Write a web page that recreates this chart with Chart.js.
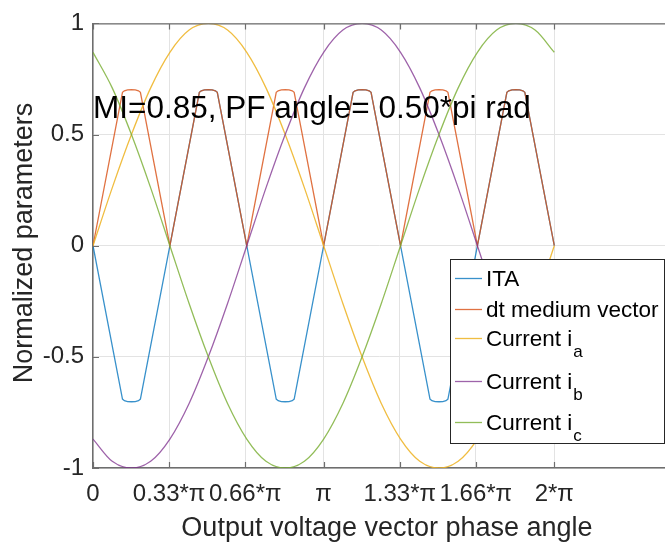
<!DOCTYPE html>
<html>
<head>
<meta charset="utf-8">
<script src="https://cdn.jsdelivr.net/npm/chart.js@4"></script>
<style>
  html, body { margin: 0; padding: 0; background: #fff; overflow: hidden; }
  canvas { display: block; }
</style>
</head>
<body>
<canvas id="chart" width="665" height="546"></canvas>
<script>
// phase angle of the sampled currents, degrees
const currentAngle = [0, 15, 30, 45, 60, 75, 90, 105, 120, 135, 150, 165, 180,
  195, 210, 225, 240, 255, 270, 285, 300, 315, 330, 345, 360];
const currentA = [0, 0.26, 0.5, 0.71, 0.87, 0.97, 1, 0.97, 0.87, 0.71, 0.5, 0.26, 0,
  -0.26, -0.5, -0.71, -0.87, -0.97, -1, -0.97, -0.87, -0.71, -0.5, -0.26, 0];
const currentB = [-0.87, -0.97, -1, -0.97, -0.87, -0.71, -0.5, -0.26, 0, 0.26, 0.5, 0.71, 0.87,
  0.97, 1, 0.97, 0.87, 0.71, 0.5, 0.26, 0, -0.26, -0.5, -0.71, -0.87];
const currentC = [0.87, 0.71, 0.5, 0.26, 0, -0.26, -0.5, -0.71, -0.87, -0.97, -1, -0.97, -0.87,
  -0.71, -0.5, -0.26, 0, 0.26, 0.5, 0.71, 0.87, 0.97, 1, 0.97, 0.87];

// sector break points for dt / ITA, degrees
const dtAngle = [
  0, 23, 24.5, 27, 30, 33, 35.5, 37,
  60, 83, 84.5, 87, 90, 93, 95.5, 97,
  120, 143, 144.5, 147, 150, 153, 155.5, 157,
  180, 203, 204.5, 207, 210, 213, 215.5, 217,
  240, 263, 264.5, 267, 270, 273, 275.5, 277,
  300, 323, 324.5, 327, 330, 333, 335.5, 337,
  360];
const dtMedium = [
  0, 0.69, 0.697, 0.701, 0.702, 0.701, 0.697, 0.69,
  0, 0.69, 0.697, 0.701, 0.702, 0.701, 0.697, 0.69,
  0, 0.69, 0.697, 0.701, 0.702, 0.701, 0.697, 0.69,
  0, 0.69, 0.697, 0.701, 0.702, 0.701, 0.697, 0.69,
  0, 0.69, 0.697, 0.701, 0.702, 0.701, 0.697, 0.69,
  0, 0.69, 0.697, 0.701, 0.702, 0.701, 0.697, 0.69,
  0];
const ita = [
  0, -0.69, -0.697, -0.701, -0.702, -0.701, -0.697, -0.69,
  0, 0.69, 0.697, 0.701, 0.702, 0.701, 0.697, 0.69,
  0, -0.69, -0.697, -0.701, -0.702, -0.701, -0.697, -0.69,
  0, 0.69, 0.697, 0.701, 0.702, 0.701, 0.697, 0.69,
  0, -0.69, -0.697, -0.701, -0.702, -0.701, -0.697, -0.69,
  0, 0.69, 0.697, 0.701, 0.702, 0.701, 0.697, 0.69,
  0];

// x ticks in units of pi
const xTickValues = [0, 0.33, 0.66, 1, 1.33, 1.66, 2];
const xTickLabels = ['0', '0.33*π', '0.66*π', 'π', '1.33*π', '1.66*π', '2*π'];
const yTickValues = [-1, -0.5, 0, 0.5, 1];

const seriesNames = ['ITA', 'dt medium vector', 'Current i', 'Current i', 'Current i'];
const seriesSubs = ['', '', 'a', 'b', 'c'];
const seriesColors = ['rgba(0,114,189,0.78)', 'rgba(217,83,25,0.82)', 'rgba(237,177,32,0.85)',
  'rgba(126,47,142,0.75)', 'rgba(119,172,48,0.8)'];

const noteText = 'MI=0.85, PF angle= 0.50*pi rad';
const xTitle = 'Output voltage vector phase angle';
const yTitle = 'Normalized parameters';

const FONT = "'Liberation Sans', Arial, sans-serif";
const AXIS_COLOR = '#262626';
const FRAME_COLOR = '#6e6e6e';

const toPoints = (angles, values) => angles.map((d, i) => ({ x: d / 180, y: values[i] }));

const makeSet = (i, angles, values, smooth) => ({
    label: seriesNames[i] + seriesSubs[i],
    data: toPoints(angles, values),
    borderColor: seriesColors[i],
    borderWidth: 1.3,
    pointRadius: 0,
    tension: 0,
    cubicInterpolationMode: smooth ? 'monotone' : 'default',
    order: 5 - i // later series on top
});

// frame, inward tick marks, titles, note and legend box
const decorations = {
    id: 'decorations',
    afterDatasetsDraw(chart) {
        const { ctx, chartArea: a } = chart;
        ctx.save();
        ctx.fillStyle = '#000';
        ctx.font = `31.5px ${FONT}`;
        ctx.textAlign = 'left';
        ctx.textBaseline = 'alphabetic';
        ctx.fillText(noteText, a.left, 118);
        ctx.restore();
    },
    afterDraw(chart) {
        const { ctx, chartArea: a, scales } = chart;
        ctx.save();
        ctx.strokeStyle = FRAME_COLOR;
        ctx.lineWidth = 1.2;
        ctx.beginPath();
        ctx.moveTo(a.left, a.top + 0.5);
        ctx.lineTo(a.right, a.top + 0.5);
        xTickValues.forEach(v => {
            const x = Math.round(scales.x.getPixelForValue(v)) + 0.5;
            ctx.moveTo(x, a.bottom); ctx.lineTo(x, a.bottom - 6);
            ctx.moveTo(x, a.top); ctx.lineTo(x, a.top + 6);
        });
        yTickValues.forEach(v => {
            const y = Math.round(scales.y.getPixelForValue(v)) + 0.5;
            ctx.moveTo(a.left, y); ctx.lineTo(a.left + 6, y);
        });
        ctx.stroke();

        // axis titles
        ctx.fillStyle = AXIS_COLOR;
        ctx.font = `27px ${FONT}`;
        ctx.textAlign = 'center';
        ctx.textBaseline = 'alphabetic';
        ctx.fillText(xTitle, 387, 536);
        ctx.save();
        ctx.translate(32, 243);
        ctx.rotate(-Math.PI / 2);
        ctx.fillText(yTitle, 0, 0);
        ctx.restore();

        // legend
        const box = { left: 450.5, top: 259.5, right: 664.5, bottom: 443.5 };
        ctx.fillStyle = '#fff';
        ctx.fillRect(box.left, box.top, box.right - box.left, box.bottom - box.top);
        ctx.strokeStyle = AXIS_COLOR;
        ctx.lineWidth = 1;
        ctx.strokeRect(box.left, box.top, box.right - box.left, box.bottom - box.top);
        const rows = [278, 309, 338, 381, 422];
        rows.forEach((y, i) => {
            ctx.strokeStyle = seriesColors[i];
            ctx.lineWidth = 1.3;
            ctx.beginPath();
            ctx.moveTo(455, y + 0.5);
            ctx.lineTo(482, y + 0.5);
            ctx.stroke();
            ctx.fillStyle = '#000';
            ctx.font = `22.5px ${FONT}`;
            ctx.textAlign = 'left';
            ctx.textBaseline = 'alphabetic';
            ctx.fillText(seriesNames[i], 486, y + 8);
            if (seriesSubs[i]) {
                const w = ctx.measureText(seriesNames[i]).width;
                ctx.font = `17px ${FONT}`;
                ctx.fillText(seriesSubs[i], 486 + w + 1, y + 19);
            }
        });
        ctx.restore();
    }
};

new Chart(document.getElementById('chart'), {
    type: 'line',
    data: {
        datasets: [
            makeSet(0, dtAngle, ita, false),
            makeSet(1, dtAngle, dtMedium, false),
            makeSet(2, currentAngle, currentA, true),
            makeSet(3, currentAngle, currentB, true),
            makeSet(4, currentAngle, currentC, true)
        ]
    },
    plugins: [decorations],
    options: {
        responsive: false,
        animation: false,
        devicePixelRatio: 1,
        layout: { padding: { top: 16, right: 0, left: 0, bottom: 0 } },
        plugins: {
            legend: { display: false },
            tooltip: { enabled: false }
        },
        scales: {
            x: {
                type: 'linear',
                min: 0,
                max: 2.48,
                afterBuildTicks: (scale) => { scale.ticks = xTickValues.map(v => ({ value: v })); },
                afterFit: (scale) => { scale.height = 78; },
                grid: { color: '#e3e3e3', lineWidth: 1, drawTicks: false },
                border: { color: FRAME_COLOR, width: 1.5 },
                ticks: {
                    color: AXIS_COLOR,
                    padding: 12,
                    maxRotation: 0,
                    autoSkip: false,
                    font: { family: FONT, size: 24 },
                    callback: (v) => xTickLabels[xTickValues.indexOf(v)] ?? ''
                }
            },
            y: {
                min: -1,
                max: 1,
                afterBuildTicks: (scale) => { scale.ticks = yTickValues.map(v => ({ value: v })); },
                afterFit: (scale) => { scale.width = 93; },
                grid: { color: '#e3e3e3', lineWidth: 1, drawTicks: false },
                border: { color: FRAME_COLOR, width: 1.5 },
                ticks: {
                    color: AXIS_COLOR,
                    padding: 9,
                    font: { family: FONT, size: 24 },
                    callback: (v) => String(v)
                }
            }
        }
    }
});
</script>
</body>
</html>
